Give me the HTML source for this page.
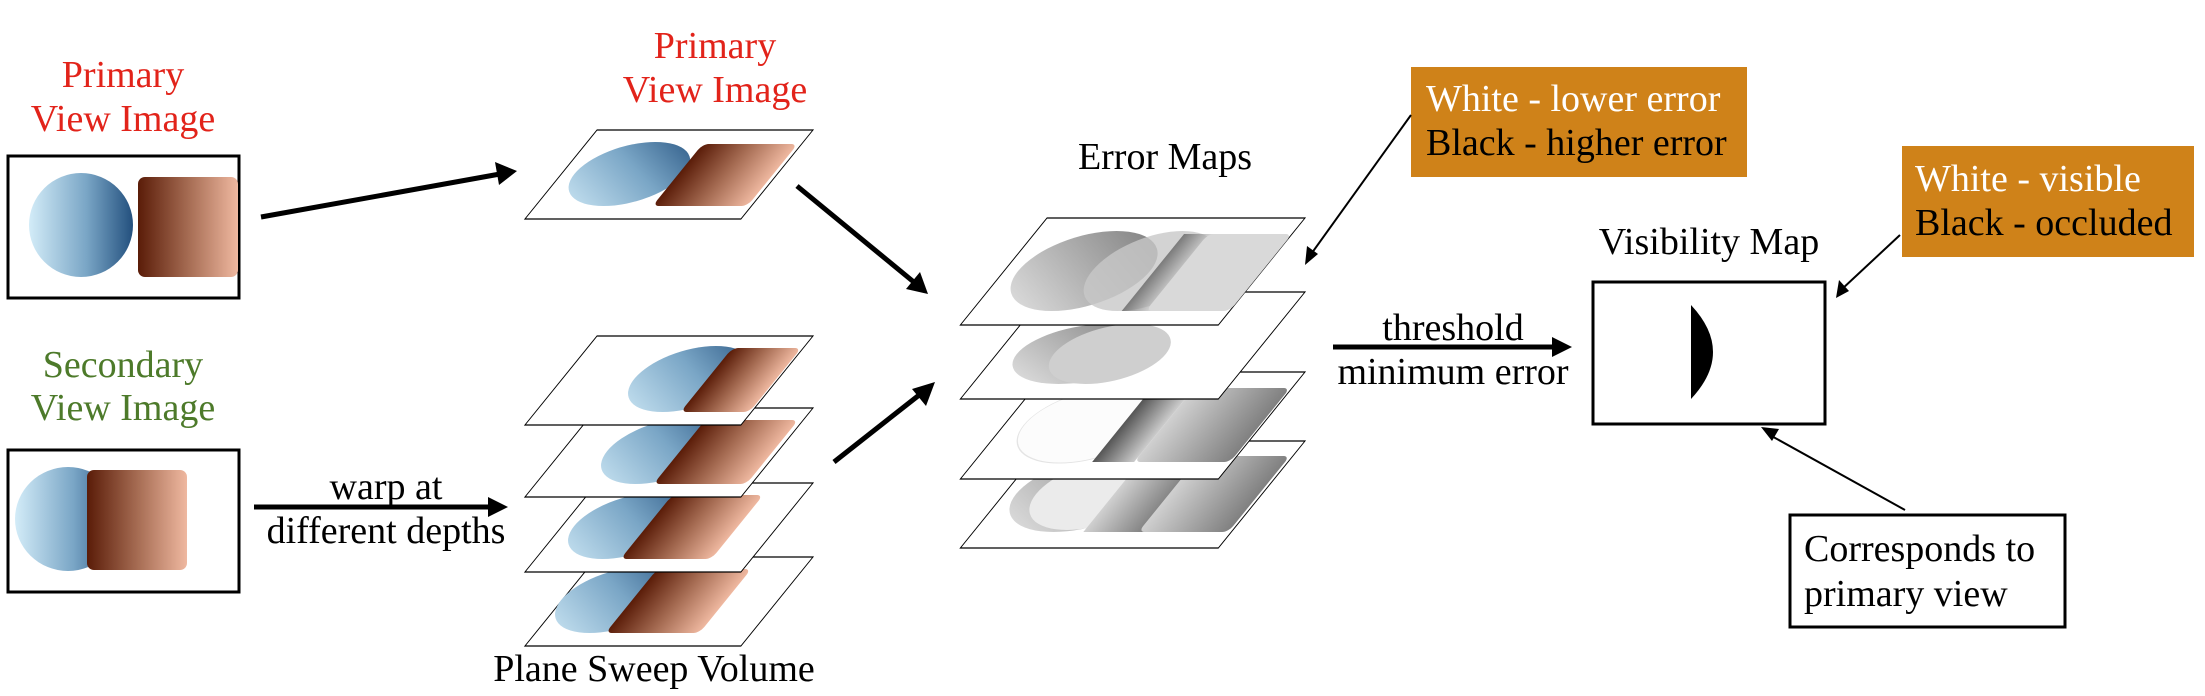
<!DOCTYPE html>
<html><head><meta charset="utf-8"><style>
html,body{margin:0;padding:0;background:#fff;}
svg{display:block;}
text{font-family:"Liberation Serif",serif;font-size:38px;}
</style></head><body>
<svg width="2205" height="696" viewBox="0 0 2205 696" xmlns="http://www.w3.org/2000/svg">
<defs>
<linearGradient id="blue" x1="0" y1="0" x2="1" y2="0"><stop offset="0" stop-color="#d3ecf8"/><stop offset="0.55" stop-color="#7aa6c6"/><stop offset="1" stop-color="#23507e"/></linearGradient>
<linearGradient id="blue2" x1="0" y1="1" x2="1" y2="0"><stop offset="0" stop-color="#d3ecf8"/><stop offset="0.55" stop-color="#7aa6c6"/><stop offset="1" stop-color="#23507e"/></linearGradient>
<linearGradient id="brown" x1="0" y1="0" x2="1" y2="0"><stop offset="0" stop-color="#5a1c08"/><stop offset="0.5" stop-color="#a56b52"/><stop offset="1" stop-color="#efb8a0"/></linearGradient>
<linearGradient id="g1" x1="0" y1="1" x2="1" y2="0"><stop offset="0" stop-color="#e8e8e8"/><stop offset="1" stop-color="#777"/></linearGradient>
<linearGradient id="g2" x1="0" y1="0" x2="1" y2="0"><stop offset="0" stop-color="#555"/><stop offset="1" stop-color="#ccc"/></linearGradient>
<linearGradient id="g3" x1="0" y1="0" x2="1" y2="0"><stop offset="0" stop-color="#d0d0d0"/><stop offset="1" stop-color="#808080"/></linearGradient>
</defs>

<g fill="#e2231a" text-anchor="middle">
<text x="123" y="87">Primary</text><text x="123" y="131">View Image</text>
<text x="715" y="58">Primary</text><text x="715" y="102">View Image</text>
</g>
<g fill="#4d7a2a" text-anchor="middle">
<text x="123" y="377">Secondary</text><text x="123" y="420">View Image</text>
</g>

<rect x="8" y="156" width="231" height="142" fill="#fff" stroke="#000" stroke-width="3"/>
<ellipse cx="81" cy="225" rx="52" ry="52" fill="url(#blue)"/>
<rect x="138" y="177" width="100" height="100" rx="7" fill="url(#brown)"/>
<rect x="8" y="450" width="231" height="142" fill="#fff" stroke="#000" stroke-width="3"/>
<ellipse cx="68" cy="519" rx="53" ry="52" fill="url(#blue)"/>
<rect x="87" y="470" width="100" height="100" rx="7" fill="url(#brown)"/>

<g stroke="#000" stroke-width="5" fill="none">
<line x1="261" y1="217" x2="500" y2="174"/>
<line x1="254" y1="507" x2="492" y2="507"/>
<line x1="797" y1="186" x2="915" y2="283"/>
<line x1="834" y1="462" x2="923" y2="392"/>
<line x1="1333" y1="347" x2="1555" y2="347"/>
</g>
<g fill="#000">
<path d="M517,171 L495,162 L499,185z"/>
<path d="M508,507 L488,497 L488,517z"/>
<path d="M928,294 L920,272 L906,289z"/>
<path d="M935,382 L912,389 L926,406z"/>
<path d="M1572,347 L1552,337 L1552,357z"/>
</g>
<text x="386" y="499" text-anchor="middle">warp at</text>
<text x="386" y="543" text-anchor="middle">different depths</text>

<g transform="translate(597,130) skewX(-39)">
<rect x="0" y="0" width="216" height="89" fill="#fff" stroke="#000" stroke-width="1.2"/>
<ellipse cx="68" cy="44" rx="55" ry="32" fill="url(#blue2)"/>
<rect x="117" y="14" width="95" height="62" rx="6" fill="url(#brown)"/>
</g>

<g transform="translate(597,557) skewX(-39)">
<rect x="0" y="0" width="216" height="89" fill="#fff" stroke="#000" stroke-width="1.2"/>
<ellipse cx="54" cy="43" rx="55" ry="33" fill="url(#blue2)"/>
<rect x="70" y="12" width="94" height="64" rx="6" fill="url(#brown)"/>
</g>
<g transform="translate(597,483) skewX(-39)">
<rect x="0" y="0" width="216" height="89" fill="#fff" stroke="#000" stroke-width="1.2"/>
<ellipse cx="67" cy="43" rx="55" ry="33" fill="url(#blue2)"/>
<rect x="85" y="12" width="91" height="64" rx="6" fill="url(#brown)"/>
</g>
<g transform="translate(597,408) skewX(-39)">
<rect x="0" y="0" width="216" height="89" fill="#fff" stroke="#000" stroke-width="1.2"/>
<ellipse cx="100" cy="43" rx="55" ry="33" fill="url(#blue2)"/>
<rect x="118" y="12" width="93" height="64" rx="6" fill="url(#brown)"/>
</g>
<g transform="translate(597,336) skewX(-39)">
<rect x="0" y="0" width="216" height="89" fill="#fff" stroke="#000" stroke-width="1.2"/>
<ellipse cx="127" cy="43" rx="55" ry="33" fill="url(#blue2)"/>
<rect x="145" y="12" width="69" height="64" rx="6" fill="url(#brown)"/>
</g>
<text x="654" y="681" text-anchor="middle">Plane Sweep Volume</text>

<text x="1165" y="169" text-anchor="middle">Error Maps</text>
<g transform="translate(1047,441) skewX(-39)">
<rect x="0" y="0" width="258" height="107" fill="#fff" stroke="#000" stroke-width="1.2"/>
<ellipse cx="80" cy="53" rx="68" ry="38" fill="url(#g1)"/>
<ellipse cx="92" cy="53" rx="60" ry="36" fill="#ebebeb"/>
<rect x="110" y="15" width="60" height="76" fill="url(#g3)"/>
<rect x="165" y="15" width="90" height="76" rx="6" fill="url(#g3)"/>
</g>
<g transform="translate(1047,372) skewX(-39)">
<rect x="0" y="0" width="258" height="107" fill="#fff" stroke="#000" stroke-width="1.2"/>
<ellipse cx="86" cy="53" rx="66" ry="38" fill="#fcfcfc" stroke="#e4e4e4"/>
<path d="M118,18 L160,18 L160,90 L118,90z" fill="url(#g2)"/>
<rect x="160" y="16" width="96" height="74" rx="6" fill="url(#g3)"/>
</g>
<g transform="translate(1047,292) skewX(-39)">
<rect x="0" y="0" width="258" height="107" fill="#fff" stroke="#000" stroke-width="1.2"/>
<ellipse cx="86" cy="62" rx="66" ry="30" fill="url(#g1)"/>
<ellipse cx="113" cy="62" rx="56" ry="30" fill="#cfcfcf"/>
</g>
<g transform="translate(1047,218) skewX(-39)">
<rect x="0" y="0" width="258" height="107" fill="#fff" stroke="#000" stroke-width="1.2"/>
<ellipse cx="80" cy="53" rx="66" ry="40" fill="url(#g1)"/>
<ellipse cx="146" cy="53" rx="58" ry="40" fill="#c8c8c8" opacity="0.8"/>
<rect x="150" y="16" width="30" height="77" fill="url(#g2)" opacity="0.7"/>
<rect x="174" y="16" width="84" height="77" rx="6" fill="#d9d9d9"/>
</g>

<text x="1453" y="340" text-anchor="middle">threshold</text>
<text x="1453" y="384" text-anchor="middle">minimum error</text>

<text x="1709" y="254" text-anchor="middle">Visibility Map</text>
<rect x="1593" y="282" width="232" height="142" fill="#fff" stroke="#000" stroke-width="3"/>
<path d="M1691,305 Q1735,352 1691,399 Z" fill="#000"/>

<rect x="1411" y="67" width="336" height="110" fill="#cf8219"/>
<text x="1426" y="111" fill="#fff">White - lower error</text>
<text x="1426" y="155" fill="#000">Black - higher error</text>
<rect x="1902" y="146" width="292" height="111" fill="#cf8219"/>
<text x="1915" y="191" fill="#fff">White - visible</text>
<text x="1915" y="235" fill="#000">Black - occluded</text>

<rect x="1790" y="515" width="275" height="112" fill="#fff" stroke="#000" stroke-width="3"/>
<text x="1804" y="561">Corresponds to</text>
<text x="1804" y="606">primary view</text>

<g stroke="#000" stroke-width="2" fill="none">
<line x1="1411" y1="115" x2="1309" y2="257"/>
<line x1="1900" y1="235" x2="1841" y2="290"/>
<line x1="1905" y1="510" x2="1768" y2="434"/>
</g>
<g fill="#000">
<path d="M1305,265 L1307,246 L1318,254z"/>
<path d="M1836,298 L1839,280 L1849,291z"/>
<path d="M1761,427 L1779,429 L1772,441z"/>
</g>
</svg>
</body></html>
